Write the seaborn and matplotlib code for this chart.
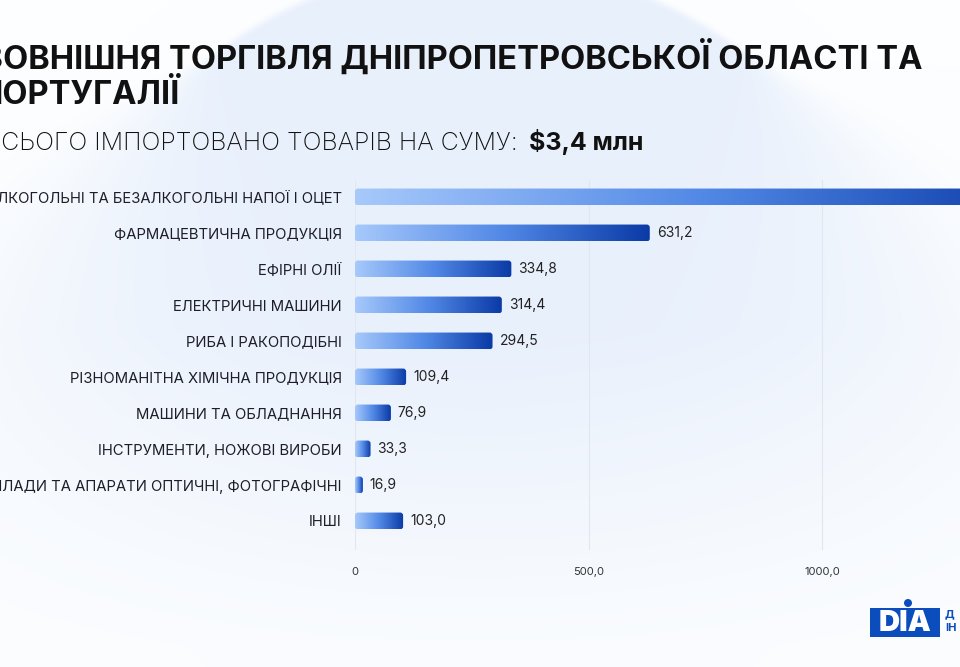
import numpy as np
import pandas as pd
import matplotlib
matplotlib.use("Agg")
import matplotlib.pyplot as plt
import seaborn as sns
from matplotlib.patches import FancyBboxPatch, Circle, Rectangle
from matplotlib.colors import LinearSegmentedColormap, to_rgb

# data (thousand USD)
categories = [
    "АЛКОГОЛЬНІ ТА БЕЗАЛКОГОЛЬНІ НАПОЇ І ОЦЕТ",
    "ФАРМАЦЕВТИЧНА ПРОДУКЦІЯ",
    "ЕФІРНІ ОЛІЇ",
    "ЕЛЕКТРИЧНІ МАШИНИ",
    "РИБА І РАКОПОДІБНІ",
    "РІЗНОМАНІТНА ХІМІЧНА ПРОДУКЦІЯ",
    "МАШИНИ ТА ОБЛАДНАННЯ",
    "ІНСТРУМЕНТИ, НОЖОВІ ВИРОБИ",
    "ПРИЛАДИ ТА АПАРАТИ ОПТИЧНІ, ФОТОГРАФІЧНІ",
    "ІНШІ",
]
values = [1485.6, 631.2, 334.8, 314.4, 294.5, 109.4, 76.9, 33.3, 16.9, 103.0]
xticks = [0, 500, 1000]
xtick_labels = ["0", "500,0", "1000,0"]

title_1 = "ЗОВНІШНЯ ТОРГІВЛЯ ДНІПРОПЕТРОВСЬКОЇ ОБЛАСТІ ТА"
title_2 = "ПОРТУГАЛІЇ"
subtitle = "ВСЬОГО ІМПОРТОВАНО ТОВАРІВ НА СУМУ: "
subtitle_bold = "\\$3,4 млн"

df = pd.DataFrame({"category": categories, "value": values})

W, H = 960, 667
sns.set_theme(style="white")
plt.rcParams["font.family"] = ["Inter", "DejaVu Sans"]

fig = plt.figure(figsize=(W / 100, H / 100), dpi=100)
fig.patch.set_facecolor("#fdfeff")

# soft background circle: crisp at the top, blurred lower down
bg = fig.add_axes([0, 0, 1, 1], zorder=-5)
bg.axis("off")
yy, xx = np.mgrid[0:H, 0:W].astype(float)
dist = np.hypot(xx - 480, yy - 404) - 440
soft = 2 + 0.35 * np.clip(yy - 60, 0, None)
mask = 1 / (1 + np.exp(np.clip(dist / soft, -50, 50)))
fade = np.clip(1 - (yy - 330) / 420, 0.25, 1)
alpha = (mask * fade)[..., None]
white = np.array(to_rgb("#fdfeff"))
blue = np.array(to_rgb("#e8f0fc"))
bg_img = white * (1 - alpha) + blue * alpha
bg.imshow(bg_img, extent=[0, W, H, 0], aspect="auto", interpolation="bilinear")
bg.set_xlim(0, W)
bg.set_ylim(H, 0)

# logo
bg.add_patch(Rectangle((870, 608), 70, 29, color="#0b4dbd", lw=0, zorder=3))
bg.add_patch(Circle((908, 603), 4, color="#0b4dbd", lw=0, zorder=3))
bg.text(905, 623.5, "DIA", color="white", fontsize=21, fontweight="black",
        ha="center", va="center", zorder=4)
bg.text(945, 614, "Д", color="#0b4dbd", fontsize=8, fontweight="bold", va="center", zorder=4)
bg.text(945, 628, "ІН", color="#0b4dbd", fontsize=8, fontweight="bold", va="center", zorder=4)

# main axes: x=0 at 355px, 1000 at 822px
px_per_unit = (822 - 355) / 1000
ax = fig.add_axes([355 / W, 1 - 550 / H, (W - 355) / W, 370 / H])
ax.set_facecolor("none")
sns.barplot(data=df, x="value", y="category", orient="h", width=0.47,
            color="#4f86e6", ax=ax)

cmap = LinearSegmentedColormap.from_list("bar", ["#a7c9fb", "#5289e6", "#0a3aa6"])
grad = np.linspace(0, 1, 256).reshape(1, -1)
for p in list(ax.patches):
    x0, y0, w, h = p.get_x(), p.get_y(), p.get_width(), p.get_height()
    p.set_visible(False)
    r_x = 3 / px_per_unit
    rounded = FancyBboxPatch((x0, y0), w, h,
                             boxstyle=f"round,pad=0,rounding_size={r_x}",
                             mutation_aspect=(1 / 36) / (1 / px_per_unit),
                             fc="none", ec="none", transform=ax.transData)
    ax.add_patch(rounded)
    im = ax.imshow(grad, cmap=cmap, extent=[x0, x0 + w, y0 + h, y0],
                   aspect="auto", interpolation="bilinear", zorder=3)
    im.set_clip_path(rounded)

for i, v in enumerate(values):
    ax.annotate(f"{v:.1f}".replace(".", ","), (v, i), xytext=(5, 0),
                textcoords="offset points", va="center", ha="left",
                fontsize=10, color="#222222", annotation_clip=False)

ax.set_xlim(0, (W - 355) / px_per_unit)
ax.set_ylim(9 + (550 - 521) / 36, -(197 - 180) / 36)
ax.set_xticks(xticks)
ax.set_xticklabels(xtick_labels)
ax.set_xlabel("")
ax.set_ylabel("")
for x in xticks:
    ax.axvline(x, color="#e2e7ee", lw=0.8, zorder=0)
sns.despine(ax=ax, left=True, bottom=True)
ax.tick_params(axis="x", length=0, pad=12, labelsize=8, labelcolor="#333333")
ax.tick_params(axis="y", length=0, pad=9.5, labelsize=10.7, labelcolor="#1e1e2a")

# titles, first letters run off the left edge
renderer = fig.canvas.get_renderer()


def width_px(s, **kw):
    t = fig.text(0, 0, s, **kw)
    w = t.get_window_extent(renderer).width
    t.remove()
    return w


tkw = dict(fontsize=23.5, fontweight="bold", color="#111111")
x1 = 3 - width_px(title_1[0], **tkw)
fig.text(x1 / W, 1 - 69 / H, title_1, ha="left", va="baseline", **tkw)
x2 = 3 - width_px(title_2[0], **tkw)
fig.text(x2 / W, 1 - 104 / H, title_2, ha="left", va="baseline", **tkw)

skw = dict(fontsize=18, fontweight="light", color="#111111")
x3 = 1 - width_px(subtitle[0], **skw)
fig.text(x3 / W, 1 - 150 / H, subtitle, ha="left", va="baseline", **skw)
x4 = x3 + width_px(subtitle.rstrip(), **skw) + 11
fig.text(x4 / W, 1 - 150 / H, subtitle_bold, ha="left", va="baseline",
         fontsize=18, fontweight="bold", color="#111111")

fig.savefig("out.png", dpi=100, facecolor=fig.get_facecolor())
